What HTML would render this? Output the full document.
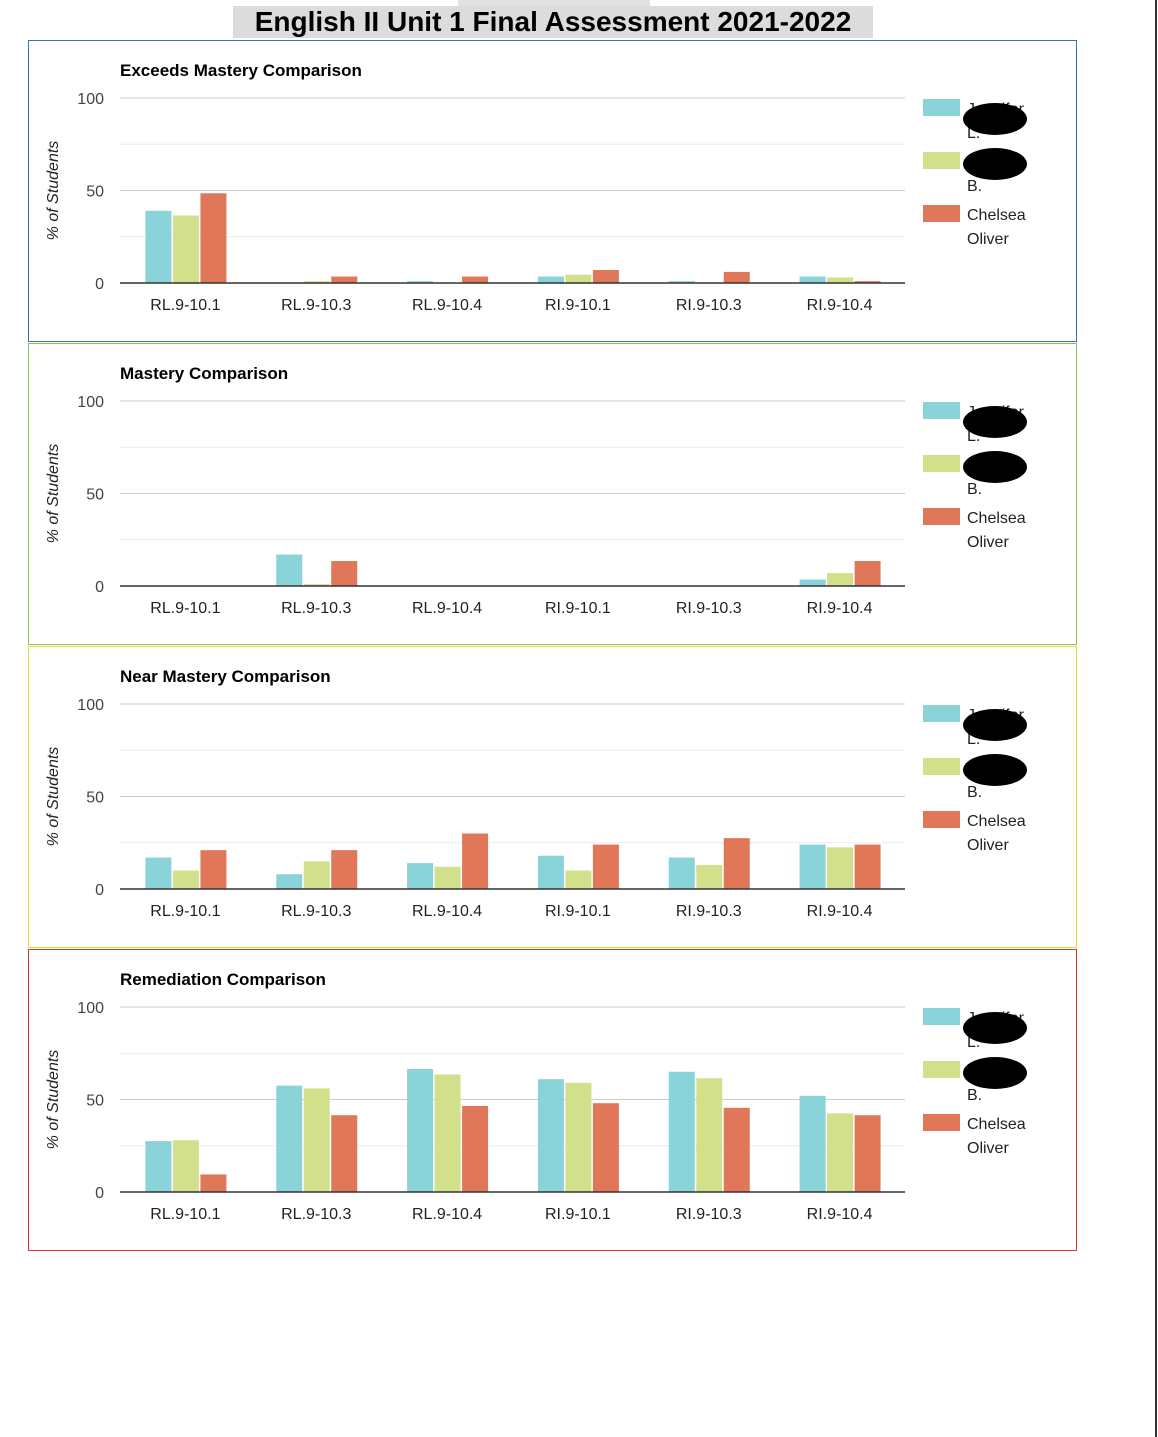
<!DOCTYPE html>
<html><head><meta charset="utf-8">
<style>
body{margin:0;width:1158px;height:1437px;background:#fff;position:relative;overflow:hidden;font-family:"Liberation Sans",Arial,sans-serif;}
#topbox{position:absolute;left:458px;top:0;width:192px;height:6px;background:#e0e0e0;}
#title{position:absolute;left:233px;top:6px;width:640px;height:32px;background:#dcdcdc;font-weight:bold;font-size:28px;line-height:32px;text-align:center;color:#000;}
#rightline{position:absolute;left:1155px;top:0;width:2px;height:1437px;background:#333;}
.panel{position:absolute;left:28px;width:1047px;height:300px;border:1px solid;}
svg{position:absolute;left:0;top:0;}
</style></head><body>
<div id="topbox"></div>
<div id="title">English II Unit 1 Final Assessment 2021-2022</div>
<div id="rightline"></div>
<div id="charts"></div>
<script>
const categories=["RL.9-10.1","RL.9-10.3","RL.9-10.4","RI.9-10.1","RI.9-10.3","RI.9-10.4"];
const yTicks=[0,50,100];
const seriesNames=["Jennifer L.","B. B.","Chelsea Oliver"];
const chartTitles=["Exceeds Mastery Comparison","Mastery Comparison","Near Mastery Comparison","Remediation Comparison"];
const exceedsTeal=[39,0,1,3.5,1,3.5];
const exceedsGreen=[36.5,1,0,4.5,0,3];
const exceedsRed=[48.5,3.5,3.5,7,6,1];
const masteryTeal=[0,17,0,0,0,3.5];
const masteryGreen=[0,1,0,0,0,7];
const masteryRed=[0,13.5,0,0,0,13.5];
const nearTeal=[17,8,14,18,17,24];
const nearGreen=[10,15,12,10,13,22.5];
const nearRed=[21,21,30,24,27.5,24];
const remTeal=[27.5,57.5,66.5,61,65,52];
const remGreen=[28,56,63.5,59,61.5,42.5];
const remRed=[9.5,41.5,46.5,48,45.5,41.5];

const chartData=[[exceedsTeal,exceedsGreen,exceedsRed],[masteryTeal,masteryGreen,masteryRed],[nearTeal,nearGreen,nearRed],[remTeal,remGreen,remRed]];
const borders=["#3b6fc2","#8cc04a","#e6dc3c","#d83a2e"];
const colors=["#8ad3d8","#d3e08b","#e07758"];
const NS="http://www.w3.org/2000/svg";
const cont=document.getElementById('charts');
function mk(t,a,p){const e=document.createElementNS(NS,t);for(const k in a)e.setAttribute(k,a[k]);p.appendChild(e);return e;}
chartData.forEach((series,ci)=>{
  const top=40+ci*303;
  const panel=document.createElement('div');
  panel.className='panel';
  panel.style.top=top+'px';panel.style.borderColor=borders[ci];
  
  
  cont.appendChild(panel);
  const svg=mk('svg',{width:1047,height:300},panel);
  const ox=-29, oy=-41;
  const x0=120+ox, x1=905+ox;
  const y=v=>283+oy - v*1.85;
  const bw=(x1-x0)/categories.length;
  const t=mk('text',{x:120+ox,y:76+oy,'font-size':17,'font-weight':'bold',fill:'#000'},svg);t.textContent=chartTitles[ci];
  
  
  [25,75].forEach(v=>{const g=mk('line',{x1:x0,x2:x1,y1:y(v),y2:y(v),stroke:'#ececec','stroke-width':1},svg);
    
    });
  yTicks.forEach(v=>{
    if(v>0){const g=mk('line',{x1:x0,x2:x1,y1:y(v),y2:y(v),stroke:'#cccccc','stroke-width':1},svg);
      
      }
    const l=mk('text',{x:104+ox,y:y(v)+6,'font-size':16,'text-anchor':'end',fill:'#444'},svg);l.textContent=v;
    
    
  });
  const yt=mk('text',{x:0,y:0,'font-size':16,'font-style':'italic','text-anchor':'middle',fill:'#222',transform:`translate(${58+ox},${y(50)}) rotate(-90)`},svg);yt.textContent='% of Students';
  
  
  categories.forEach((c,i)=>{
    const cx=x0+bw*(i+0.5);
    series.forEach((s,si)=>{
      const v=s[i];
      const r=mk('rect',{x:cx-40+si*27.5,y:y(v),width:26,height:Math.max(0,y(0)-y(v)),fill:colors[si]},svg);
      
      
    });
    const l=mk('text',{x:cx,y:y(0)+27,'font-size':16,'text-anchor':'middle',fill:'#222'},svg);l.textContent=c;
    
    
  });
  const ax=mk('line',{x1:x0,x2:x1,y1:y(0),y2:y(0),stroke:'#333','stroke-width':1.5},svg);
  
  
  seriesNames.forEach((n,si)=>{
    const ly=58+si*53;
    const sw=mk('rect',{x:923+ox,y:ly,width:37,height:17,fill:colors[si]},svg);
    
    
    const parts=si===2?["Chelsea","Oliver"]:n.split(' ');
    parts.forEach((p,pi)=>{const tx=mk('text',{x:967+ox,y:ly+15+pi*24,'font-size':16,fill:'#222'},svg);tx.textContent=p;
      
      });
    if(si<2){const b=mk('ellipse',{cx:995+ox,cy:ly+(si===0?20:12),rx:32,ry:16,fill:'#000'},svg);
      
      }
  });
});
</script>
</body></html>
